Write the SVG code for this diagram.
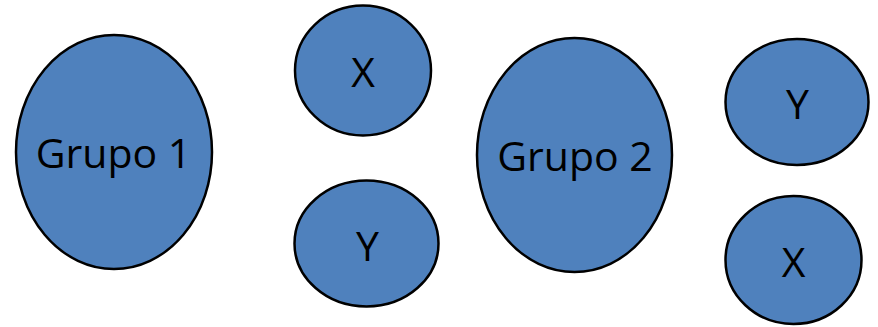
<svg xmlns="http://www.w3.org/2000/svg" width="878" height="327" viewBox="0 0 878 327">
<style>
.n{fill:#4F81BD;stroke:#000;stroke-width:2.5}
.t{font-family:"Open Sans","Noto Sans",sans-serif;font-size:41px;fill:#000;text-anchor:middle}
</style>
<rect width="878" height="327" fill="#fff"/>
<g id="connectors"/>
<g id="grupo1"><ellipse class="n" cx="114" cy="152" rx="98" ry="117"/><text class="t" x="113.5" y="168">Grupo 1</text></g>
<g id="x1"><ellipse class="n" cx="363" cy="70.5" rx="68" ry="65"/><text class="t" x="363" y="87">X</text></g>
<g id="y1"><ellipse class="n" cx="366.5" cy="243.5" rx="72" ry="63"/><text class="t" x="367.5" y="261">Y</text></g>
<g id="grupo2"><ellipse class="n" cx="574.5" cy="155" rx="97.5" ry="117"/><text class="t" x="575" y="171">Grupo 2</text></g>
<g id="y2"><ellipse class="n" cx="797" cy="102" rx="71.5" ry="63"/><text class="t" x="797.5" y="119">Y</text></g>
<g id="x2"><ellipse class="n" cx="793.5" cy="260" rx="68" ry="64"/><text class="t" x="793.5" y="277">X</text></g>
</svg>
